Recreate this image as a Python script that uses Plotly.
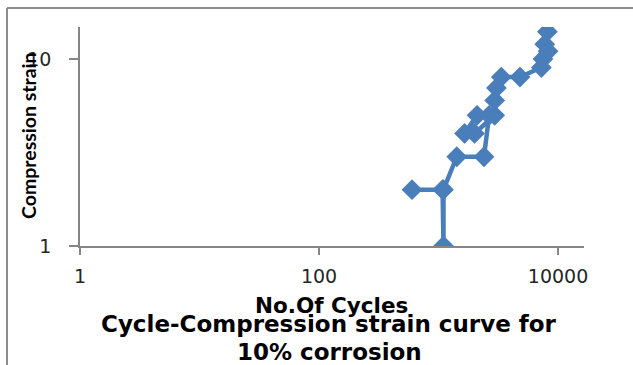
import plotly.graph_objects as go

# Cycle counts and measured compression strain, in recording order
cycles = [600, 1080, 1100, 1100, 1420, 2400, 2650, 2100, 1650, 2000,
          2950, 2950, 3050, 3350, 4800, 7250, 7480, 8240, 7730, 8140]
strain = [2, 2, 1, 2, 3, 3, 5, 5, 4, 4,
          5, 6, 7, 8, 8, 9, 10, 11, 12, 14]

x_ticks = [1, 100, 10000]
x_tick_text = ["1", "100", "10000"]
y_ticks = [1, 10]
y_tick_text = ["1", "10"]

W, H = 633, 365
ML, MR, MT, MB = 80, 49, 27, 119
PW, PH = W - ML - MR, H - MT - MB

def px_x(p):
    return (p - ML) / PW

def px_y(p):
    return (H - MB - p) / PH

blue = "#4A7EBB"
axis_grey = "#868686"

fig = go.Figure()
fig.add_trace(go.Scatter(
    x=cycles, y=strain, mode="lines+markers",
    line=dict(color=blue, width=4.5),
    marker=dict(symbol="diamond", size=16, color=blue, line=dict(width=0)),
    showlegend=False,
))

tick_font = dict(family="DejaVu Sans", size=19, color="#262626")

fig.update_xaxes(
    type="log", range=[0, 4.217],
    tickvals=x_ticks, ticktext=x_tick_text,
    showgrid=False, zeroline=False,
    showline=True, linecolor=axis_grey, linewidth=1.5,
    ticks="outside", ticklen=7, tickcolor=axis_grey, tickwidth=1.5,
    tickfont=tick_font, ticklabelstandoff=5,
)
fig.update_yaxes(
    type="log", range=[0, 1.171],
    tickvals=y_ticks, ticktext=y_tick_text,
    showgrid=False, zeroline=False,
    showline=True, linecolor=axis_grey, linewidth=1.5,
    ticks="outside", ticklen=9, tickcolor=axis_grey, tickwidth=1.5,
    tickfont=tick_font, ticklabelstandoff=14,
)

# Outer chart frame (top and left edges)
frame = dict(type="line", xref="paper", yref="paper",
             line=dict(color="#8C8C8C", width=2), layer="above")
fig.add_shape(**frame, x0=px_x(7), x1=px_x(W + 5), y0=px_y(8), y1=px_y(8))
fig.add_shape(**frame, x0=px_x(7), x1=px_x(7), y0=px_y(8), y1=px_y(H + 5))

ann = []
ann.append(dict(text="<b>Compression strain</b>", x=px_x(28), y=px_y(136),
                textangle=-90, font=dict(family="Lato", size=19.5, color="#000000")))
ann.append(dict(text="<b>No.Of Cycles</b>", x=px_x(331), y=px_y(305),
                font=dict(family="DejaVu Sans", size=21.5, color="#000000")))
ann.append(dict(text="<b>Cycle-Compression strain curve for</b>", x=px_x(329), y=px_y(324),
                font=dict(family="DejaVu Sans", size=23, color="#000000")))
ann.append(dict(text="<b>10% corrosion</b>", x=px_x(329), y=px_y(352),
                font=dict(family="DejaVu Sans", size=23, color="#000000")))
for a in ann:
    fig.add_annotation(xref="paper", yref="paper", showarrow=False,
                       xanchor="center", yanchor="middle", **a)

fig.update_layout(
    width=W, height=H,
    margin=dict(l=ML, r=MR, t=MT, b=MB),
    paper_bgcolor="white", plot_bgcolor="white",
)

fig.write_html("out.html")
